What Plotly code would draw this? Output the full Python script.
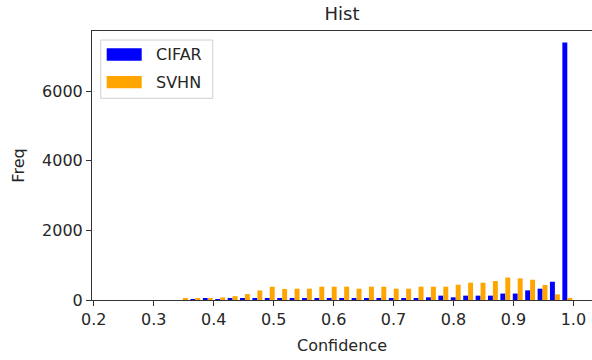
import plotly.graph_objects as go

# Histogram bin centers (confidence)
bin_centers = [0.2453, 0.2660, 0.2867, 0.3074, 0.3281, 0.3487, 0.3694, 0.3901,
               0.4108, 0.4315, 0.4521, 0.4728, 0.4935, 0.5142, 0.5349, 0.5555,
               0.5762, 0.5969, 0.6176, 0.6383, 0.6589, 0.6796, 0.7003, 0.7210,
               0.7417, 0.7623, 0.7830, 0.8037, 0.8244, 0.8451, 0.8657, 0.8864,
               0.9071, 0.9278, 0.9485, 0.9691, 0.9898]

cifar_counts = [0, 0, 0, 0, 0, 0, 10, 45, 20, 45, 45, 45, 57, 57, 57, 57,
                57, 57, 57, 57, 57, 57, 57, 57, 57, 77, 125, 77, 125, 125,
                125, 185, 185, 277, 325, 525, 7400]

svhn_counts = [0, 0, 0, 0, 0, 40, 55, 55, 75, 110, 170, 275, 383, 316, 325, 325,
               383, 383, 383, 325, 383, 383, 325, 325, 383, 383, 383, 440, 497,
               497, 545, 645, 622, 583, 430, 163, 48]

x_tick_vals = [0.2, 0.3, 0.4, 0.5, 0.6, 0.7, 0.8, 0.9, 1.0]
x_tick_text = ["0.2", "0.3", "0.4", "0.5", "0.6", "0.7", "0.8", "0.9", "1.0"]
y_tick_vals = [0, 2000, 4000, 6000]
y_tick_text = ["0", "2000", "4000", "6000"]

series_names = ["CIFAR", "SVHN"]
series_colors = ["#0000ff", "#ffa500"]

FONT = "DejaVu Sans"
FS = 16
W, H = 592, 360
L, R, T, B = 92, 0, 31, 60

fig = go.Figure()
for name, counts, color in zip(series_names, [cifar_counts, svhn_counts], series_colors):
    fig.add_trace(go.Bar(x=bin_centers, y=counts, name=name,
                         marker=dict(color=color, line=dict(width=0)),
                         showlegend=False))

axis_color = "#333333"
text_color = "#262626"
fig.update_layout(
    width=W, height=H,
    margin=dict(l=L, r=R, t=T, b=B),
    paper_bgcolor="white", plot_bgcolor="white",
    barmode="group", bargap=0.2, bargroupgap=0,
    font=dict(family=FONT, size=FS, color=text_color),
    title=dict(text="Hist", x=0.5, xref="paper", xanchor="center",
               y=1 - 14 / H, yref="container", yanchor="middle",
               font=dict(family=FONT, size=18, color=text_color)),
    xaxis=dict(range=[0.197, 1.031], tickvals=x_tick_vals, ticktext=x_tick_text,
               showgrid=False, zeroline=False, showline=True, linecolor=axis_color,
               linewidth=1, mirror=True, ticks="outside", ticklen=5, tickwidth=1,
               tickcolor=axis_color, tickfont=dict(size=FS),
               title=dict(text="Confidence", font=dict(size=FS), standoff=11)),
    yaxis=dict(range=[0, 7733], tickvals=y_tick_vals, ticktext=y_tick_text,
               showgrid=False, zeroline=False, showline=True, linecolor=axis_color,
               linewidth=1, mirror=False, ticks="outside", ticklen=5, tickwidth=1,
               tickcolor=axis_color, tickfont=dict(size=FS),
               title=dict(text="Freq", font=dict(size=FS), standoff=13)),
)

# Manual matplotlib-style legend (positions in pixels converted to paper coords)
pw, ph = W - L - R, H - T - B
def px(x):
    return (x - L) / pw
def py(y):
    return (H - B - y) / ph

shapes = [dict(type="rect", xref="paper", yref="paper",
               x0=px(100.7), x1=px(212.7), y0=py(98.3), y1=py(40),
               line=dict(color="#d0d0d0", width=1), fillcolor="rgba(255,255,255,0.8)",
               layer="above")]
patch_rows = [(48.3, 60.7), (76, 88.3)]
text_rows = [54.5, 82]
for (y0, y1), color, name, ty in zip(patch_rows, series_colors, series_names, text_rows):
    shapes.append(dict(type="rect", xref="paper", yref="paper",
                       x0=px(106.7), x1=px(141.7), y0=py(y1), y1=py(y0),
                       line=dict(width=0), fillcolor=color, layer="above"))
    fig.add_annotation(xref="paper", yref="paper", x=px(154), y=py(ty),
                       text=name, showarrow=False, xanchor="left", yanchor="middle",
                       font=dict(family=FONT, size=FS, color=text_color))
fig.update_layout(shapes=shapes)

fig.write_html("out.html")
